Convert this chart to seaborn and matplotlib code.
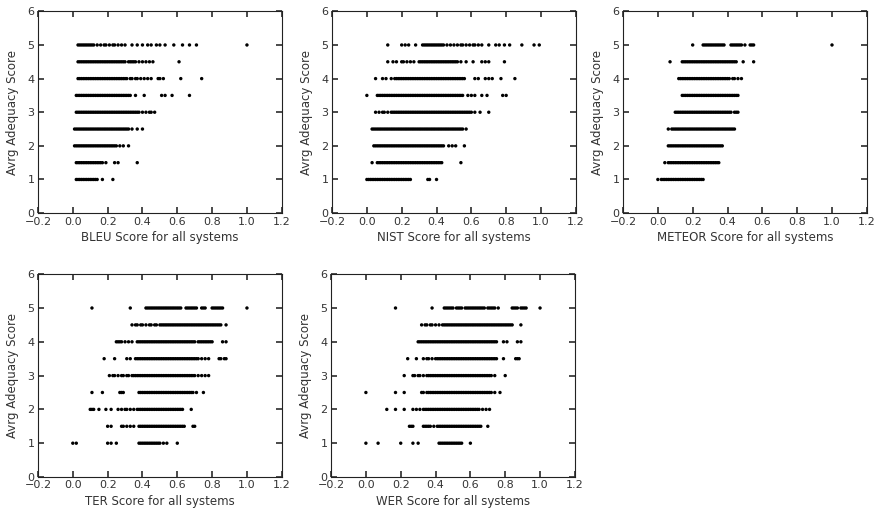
import matplotlib
matplotlib.use("Agg")
import pandas as pd
import matplotlib.pyplot as plt
import seaborn as sns

# adequacy levels (y) and the metric scores (x), one list per level
levels = [1.0, 1.5, 2.0, 2.5, 3.0, 3.5, 4.0, 4.5, 5.0]

bleu = [
    [0.02, 0.03, 0.04, 0.05, 0.06, 0.07, 0.08, 0.09, 0.10, 0.11, 0.12, 0.13, 0.14, 0.17, 0.23],
    [0.02, 0.03, 0.04, 0.05, 0.06, 0.07, 0.08, 0.09, 0.10, 0.11, 0.12, 0.13, 0.14, 0.15, 0.16, 0.17,
     0.19, 0.24, 0.26, 0.37],
    [0.01, 0.02, 0.03, 0.04, 0.05, 0.06, 0.07, 0.08, 0.09, 0.10, 0.11, 0.12, 0.13, 0.14, 0.15, 0.16,
     0.17, 0.18, 0.19, 0.20, 0.21, 0.22, 0.23, 0.24, 0.25, 0.27, 0.29, 0.32],
    [0.01, 0.02, 0.03, 0.04, 0.05, 0.06, 0.07, 0.08, 0.09, 0.10, 0.11, 0.12, 0.13, 0.14, 0.15, 0.16,
     0.17, 0.18, 0.19, 0.20, 0.21, 0.22, 0.23, 0.24, 0.25, 0.26, 0.27, 0.28, 0.29, 0.30, 0.31, 0.32,
     0.34, 0.37, 0.40],
    [0.02, 0.03, 0.04, 0.05, 0.06, 0.07, 0.08, 0.09, 0.10, 0.11, 0.12, 0.13, 0.14, 0.15, 0.16, 0.17,
     0.18, 0.19, 0.20, 0.21, 0.22, 0.23, 0.24, 0.25, 0.26, 0.27, 0.28, 0.29, 0.30, 0.31, 0.32, 0.33,
     0.34, 0.35, 0.36, 0.37, 0.38, 0.40, 0.42, 0.44, 0.45, 0.47],
    [0.02, 0.03, 0.04, 0.05, 0.06, 0.07, 0.08, 0.09, 0.10, 0.11, 0.12, 0.13, 0.14, 0.15, 0.16, 0.17,
     0.18, 0.19, 0.20, 0.21, 0.22, 0.23, 0.24, 0.25, 0.26, 0.27, 0.28, 0.29, 0.30, 0.31, 0.32, 0.33,
     0.36, 0.41, 0.51, 0.53, 0.57, 0.67],
    [0.03, 0.04, 0.05, 0.06, 0.07, 0.08, 0.09, 0.10, 0.11, 0.12, 0.13, 0.14, 0.15, 0.16, 0.17, 0.18,
     0.19, 0.20, 0.21, 0.22, 0.23, 0.24, 0.25, 0.26, 0.27, 0.28, 0.29, 0.30, 0.31, 0.33, 0.34, 0.36,
     0.37, 0.39, 0.41, 0.43, 0.45, 0.49, 0.50, 0.52, 0.62, 0.74],
    [0.03, 0.04, 0.05, 0.06, 0.07, 0.08, 0.09, 0.10, 0.11, 0.12, 0.13, 0.14, 0.15, 0.16, 0.17, 0.18,
     0.19, 0.20, 0.21, 0.22, 0.23, 0.24, 0.25, 0.26, 0.27, 0.28, 0.29, 0.30, 0.32, 0.33, 0.34, 0.35,
     0.36, 0.38, 0.40, 0.42, 0.44, 0.46, 0.61],
    [0.03, 0.04, 0.05, 0.06, 0.07, 0.08, 0.09, 0.10, 0.11, 0.12, 0.14, 0.16, 0.18, 0.19, 0.21, 0.23,
     0.24, 0.26, 0.28, 0.30, 0.34, 0.37, 0.40, 0.43, 0.45, 0.48, 0.50, 0.53, 0.58, 0.63, 0.67, 0.71,
     1.00],
]

nist = [
    [0.00, 0.01, 0.02, 0.03, 0.04, 0.05, 0.06, 0.07, 0.08, 0.09, 0.10, 0.11, 0.12, 0.13, 0.14, 0.15,
     0.16, 0.17, 0.18, 0.19, 0.20, 0.21, 0.22, 0.23, 0.24, 0.25, 0.35, 0.36, 0.40],
    [0.03, 0.06, 0.07, 0.08, 0.09, 0.10, 0.11, 0.12, 0.13, 0.14, 0.15, 0.16, 0.17, 0.18, 0.19, 0.20,
     0.21, 0.22, 0.23, 0.24, 0.25, 0.26, 0.27, 0.28, 0.29, 0.30, 0.31, 0.32, 0.33, 0.34, 0.35, 0.36,
     0.37, 0.38, 0.39, 0.40, 0.41, 0.42, 0.43, 0.54],
    [0.04, 0.05, 0.06, 0.07, 0.08, 0.09, 0.10, 0.11, 0.12, 0.13, 0.14, 0.15, 0.16, 0.17, 0.18, 0.19,
     0.20, 0.21, 0.22, 0.23, 0.24, 0.25, 0.26, 0.27, 0.28, 0.29, 0.30, 0.31, 0.32, 0.33, 0.34, 0.35,
     0.36, 0.37, 0.38, 0.39, 0.40, 0.41, 0.42, 0.43, 0.44, 0.47, 0.49, 0.51, 0.56],
    [0.03, 0.04, 0.05, 0.06, 0.07, 0.08, 0.09, 0.10, 0.11, 0.12, 0.13, 0.14, 0.15, 0.16, 0.17, 0.18,
     0.19, 0.20, 0.21, 0.22, 0.23, 0.24, 0.25, 0.26, 0.27, 0.28, 0.29, 0.30, 0.31, 0.32, 0.33, 0.34,
     0.35, 0.36, 0.37, 0.38, 0.39, 0.40, 0.41, 0.42, 0.43, 0.44, 0.45, 0.46, 0.47, 0.48, 0.49, 0.50,
     0.51, 0.52, 0.53, 0.54, 0.55, 0.57],
    [0.05, 0.07, 0.09, 0.10, 0.12, 0.14, 0.15, 0.16, 0.17, 0.18, 0.19, 0.20, 0.21, 0.22, 0.23, 0.24,
     0.25, 0.26, 0.27, 0.28, 0.29, 0.30, 0.31, 0.32, 0.33, 0.34, 0.35, 0.36, 0.37, 0.38, 0.39, 0.40,
     0.41, 0.42, 0.43, 0.44, 0.45, 0.46, 0.47, 0.48, 0.49, 0.50, 0.51, 0.52, 0.53, 0.54, 0.55, 0.56,
     0.57, 0.58, 0.59, 0.60, 0.62, 0.65, 0.70],
    [0.00, 0.06, 0.07, 0.08, 0.09, 0.10, 0.11, 0.12, 0.13, 0.14, 0.15, 0.16, 0.17, 0.18, 0.19, 0.20,
     0.21, 0.22, 0.23, 0.24, 0.25, 0.26, 0.27, 0.28, 0.29, 0.30, 0.31, 0.32, 0.33, 0.34, 0.35, 0.36,
     0.37, 0.38, 0.39, 0.40, 0.41, 0.42, 0.43, 0.44, 0.45, 0.46, 0.47, 0.48, 0.49, 0.50, 0.51, 0.52,
     0.53, 0.54, 0.55, 0.58, 0.60, 0.62, 0.66, 0.69, 0.78, 0.80],
    [0.05, 0.09, 0.11, 0.14, 0.16, 0.17, 0.18, 0.19, 0.20, 0.21, 0.22, 0.23, 0.24, 0.25, 0.26, 0.27,
     0.28, 0.29, 0.30, 0.31, 0.32, 0.33, 0.34, 0.35, 0.36, 0.37, 0.38, 0.39, 0.40, 0.41, 0.42, 0.43,
     0.44, 0.45, 0.46, 0.47, 0.48, 0.49, 0.50, 0.51, 0.52, 0.53, 0.54, 0.55, 0.56, 0.62, 0.64, 0.68,
     0.70, 0.72, 0.77, 0.85],
    [0.12, 0.15, 0.17, 0.20, 0.21, 0.23, 0.25, 0.27, 0.30, 0.31, 0.32, 0.33, 0.34, 0.35, 0.36, 0.37,
     0.38, 0.39, 0.40, 0.41, 0.42, 0.43, 0.44, 0.45, 0.46, 0.47, 0.48, 0.49, 0.50, 0.51, 0.52, 0.54,
     0.57, 0.61, 0.66, 0.68, 0.70, 0.79],
    [0.12, 0.20, 0.22, 0.24, 0.28, 0.32, 0.33, 0.34, 0.35, 0.36, 0.37, 0.38, 0.39, 0.40, 0.41, 0.42,
     0.43, 0.44, 0.46, 0.48, 0.50, 0.52, 0.54, 0.55, 0.57, 0.59, 0.61, 0.62, 0.64, 0.66, 0.70, 0.74,
     0.76, 0.79, 0.82, 0.89, 0.96, 0.99],
]

meteor = [
    [0.00, 0.02, 0.03, 0.04, 0.05, 0.06, 0.07, 0.08, 0.09, 0.10, 0.11, 0.12, 0.13, 0.14, 0.15, 0.16,
     0.17, 0.18, 0.19, 0.20, 0.21, 0.22, 0.23, 0.24, 0.25, 0.26],
    [0.04, 0.06, 0.07, 0.08, 0.09, 0.10, 0.11, 0.12, 0.13, 0.14, 0.15, 0.16, 0.17, 0.18, 0.19, 0.20,
     0.21, 0.22, 0.23, 0.24, 0.25, 0.26, 0.27, 0.28, 0.29, 0.30, 0.31, 0.32, 0.33, 0.34, 0.35],
    [0.06, 0.07, 0.08, 0.09, 0.10, 0.11, 0.12, 0.13, 0.14, 0.15, 0.16, 0.17, 0.18, 0.19, 0.20, 0.21,
     0.22, 0.23, 0.24, 0.25, 0.26, 0.27, 0.28, 0.29, 0.30, 0.31, 0.32, 0.33, 0.34, 0.35, 0.36, 0.37],
    [0.06, 0.08, 0.09, 0.10, 0.11, 0.12, 0.13, 0.14, 0.15, 0.16, 0.17, 0.18, 0.19, 0.20, 0.21, 0.22,
     0.23, 0.24, 0.25, 0.26, 0.27, 0.28, 0.29, 0.30, 0.31, 0.32, 0.33, 0.34, 0.35, 0.36, 0.37, 0.38,
     0.39, 0.40, 0.41, 0.42, 0.43, 0.44],
    [0.10, 0.11, 0.12, 0.13, 0.14, 0.15, 0.16, 0.17, 0.18, 0.19, 0.20, 0.21, 0.22, 0.23, 0.24, 0.25,
     0.26, 0.27, 0.28, 0.29, 0.30, 0.31, 0.32, 0.33, 0.34, 0.35, 0.36, 0.37, 0.38, 0.39, 0.40, 0.41,
     0.42, 0.44, 0.45, 0.46],
    [0.14, 0.15, 0.16, 0.17, 0.18, 0.19, 0.20, 0.21, 0.22, 0.23, 0.24, 0.25, 0.26, 0.27, 0.28, 0.29,
     0.30, 0.31, 0.32, 0.33, 0.34, 0.35, 0.36, 0.37, 0.38, 0.39, 0.40, 0.41, 0.42, 0.43, 0.44, 0.45,
     0.46],
    [0.12, 0.13, 0.14, 0.15, 0.16, 0.17, 0.18, 0.19, 0.20, 0.21, 0.22, 0.23, 0.24, 0.25, 0.26, 0.27,
     0.28, 0.29, 0.30, 0.31, 0.32, 0.33, 0.34, 0.35, 0.36, 0.37, 0.38, 0.39, 0.40, 0.41, 0.43, 0.44,
     0.46, 0.48],
    [0.07, 0.14, 0.15, 0.16, 0.17, 0.18, 0.19, 0.20, 0.21, 0.22, 0.23, 0.24, 0.25, 0.26, 0.27, 0.28,
     0.29, 0.30, 0.31, 0.32, 0.33, 0.34, 0.35, 0.36, 0.37, 0.38, 0.39, 0.40, 0.41, 0.42, 0.43, 0.44,
     0.45, 0.49, 0.55],
    [0.20, 0.26, 0.27, 0.28, 0.29, 0.30, 0.31, 0.32, 0.33, 0.34, 0.35, 0.36, 0.37, 0.38, 0.42, 0.43,
     0.44, 0.45, 0.46, 0.47, 0.48, 0.50, 0.53, 0.54, 0.55, 1.00],
]

ter = [
    [0.00, 0.02, 0.20, 0.22, 0.25, 0.38, 0.39, 0.40, 0.41, 0.42, 0.43, 0.44, 0.45, 0.46, 0.47, 0.48,
     0.49, 0.50, 0.52, 0.54, 0.60],
    [0.20, 0.22, 0.28, 0.29, 0.31, 0.33, 0.35, 0.38, 0.39, 0.40, 0.41, 0.42, 0.43, 0.44, 0.45, 0.46,
     0.47, 0.48, 0.49, 0.50, 0.51, 0.52, 0.53, 0.54, 0.55, 0.56, 0.57, 0.58, 0.59, 0.60, 0.61, 0.62,
     0.63, 0.64, 0.69, 0.70],
    [0.10, 0.11, 0.12, 0.15, 0.19, 0.22, 0.26, 0.28, 0.30, 0.31, 0.33, 0.35, 0.37, 0.38, 0.39, 0.40,
     0.41, 0.42, 0.43, 0.44, 0.45, 0.46, 0.47, 0.48, 0.49, 0.50, 0.51, 0.52, 0.53, 0.54, 0.55, 0.56,
     0.57, 0.58, 0.59, 0.60, 0.61, 0.62, 0.63, 0.68],
    [0.11, 0.17, 0.27, 0.28, 0.29, 0.38, 0.39, 0.40, 0.41, 0.42, 0.43, 0.44, 0.45, 0.46, 0.47, 0.48,
     0.49, 0.50, 0.51, 0.52, 0.53, 0.54, 0.55, 0.56, 0.57, 0.58, 0.59, 0.60, 0.61, 0.62, 0.63, 0.64,
     0.65, 0.66, 0.67, 0.68, 0.69, 0.71, 0.75],
    [0.21, 0.23, 0.24, 0.26, 0.28, 0.29, 0.31, 0.32, 0.34, 0.35, 0.36, 0.37, 0.38, 0.39, 0.40, 0.41,
     0.42, 0.43, 0.44, 0.45, 0.46, 0.47, 0.48, 0.49, 0.50, 0.51, 0.52, 0.53, 0.54, 0.55, 0.56, 0.57,
     0.58, 0.59, 0.60, 0.61, 0.62, 0.63, 0.64, 0.65, 0.66, 0.67, 0.68, 0.69, 0.70, 0.72, 0.74, 0.76,
     0.78],
    [0.18, 0.24, 0.31, 0.33, 0.36, 0.37, 0.38, 0.39, 0.40, 0.41, 0.42, 0.43, 0.44, 0.45, 0.46, 0.47,
     0.48, 0.49, 0.50, 0.51, 0.52, 0.53, 0.54, 0.55, 0.56, 0.57, 0.58, 0.59, 0.60, 0.61, 0.62, 0.63,
     0.64, 0.65, 0.66, 0.67, 0.68, 0.69, 0.70, 0.71, 0.72, 0.74, 0.76, 0.78, 0.84, 0.85, 0.87, 0.88],
    [0.25, 0.26, 0.27, 0.28, 0.30, 0.32, 0.34, 0.37, 0.38, 0.39, 0.40, 0.41, 0.42, 0.43, 0.44, 0.45,
     0.46, 0.47, 0.48, 0.49, 0.50, 0.51, 0.52, 0.53, 0.54, 0.55, 0.56, 0.57, 0.58, 0.59, 0.60, 0.61,
     0.62, 0.63, 0.64, 0.65, 0.66, 0.67, 0.68, 0.69, 0.70, 0.72, 0.73, 0.74, 0.75, 0.76, 0.77, 0.78,
     0.79, 0.80, 0.86, 0.88],
    [0.34, 0.36, 0.37, 0.39, 0.40, 0.42, 0.44, 0.45, 0.47, 0.48, 0.50, 0.51, 0.52, 0.53, 0.54, 0.55,
     0.56, 0.57, 0.58, 0.59, 0.60, 0.61, 0.62, 0.63, 0.64, 0.65, 0.66, 0.67, 0.68, 0.69, 0.70, 0.71,
     0.72, 0.73, 0.74, 0.75, 0.76, 0.77, 0.78, 0.79, 0.80, 0.81, 0.82, 0.83, 0.84, 0.85, 0.88],
    [0.11, 0.33, 0.42, 0.43, 0.44, 0.45, 0.46, 0.47, 0.48, 0.49, 0.50, 0.51, 0.52, 0.53, 0.54, 0.55,
     0.56, 0.57, 0.58, 0.59, 0.60, 0.61, 0.62, 0.65, 0.66, 0.67, 0.68, 0.69, 0.70, 0.71, 0.74, 0.75,
     0.76, 0.80, 0.81, 0.82, 0.83, 0.84, 0.85, 0.86, 1.00],
]

wer = [
    [0.00, 0.07, 0.20, 0.27, 0.30, 0.42, 0.43, 0.44, 0.45, 0.46, 0.47, 0.48, 0.49, 0.50, 0.51, 0.52,
     0.53, 0.54, 0.55, 0.60],
    [0.25, 0.26, 0.27, 0.33, 0.34, 0.35, 0.36, 0.37, 0.39, 0.41, 0.42, 0.43, 0.44, 0.45, 0.46, 0.47,
     0.48, 0.49, 0.50, 0.51, 0.52, 0.53, 0.54, 0.55, 0.56, 0.57, 0.58, 0.59, 0.60, 0.61, 0.62, 0.63,
     0.64, 0.65, 0.66, 0.70],
    [0.12, 0.17, 0.22, 0.27, 0.29, 0.31, 0.33, 0.34, 0.35, 0.36, 0.37, 0.38, 0.39, 0.40, 0.41, 0.42,
     0.43, 0.44, 0.45, 0.46, 0.47, 0.48, 0.49, 0.50, 0.51, 0.52, 0.53, 0.54, 0.55, 0.56, 0.57, 0.58,
     0.59, 0.60, 0.61, 0.62, 0.63, 0.64, 0.65, 0.67, 0.69, 0.71],
    [0.00, 0.17, 0.22, 0.32, 0.33, 0.35, 0.36, 0.37, 0.38, 0.39, 0.40, 0.41, 0.42, 0.43, 0.44, 0.45,
     0.46, 0.47, 0.48, 0.49, 0.50, 0.51, 0.52, 0.53, 0.54, 0.55, 0.56, 0.57, 0.58, 0.59, 0.60, 0.61,
     0.62, 0.63, 0.64, 0.65, 0.66, 0.67, 0.68, 0.69, 0.70, 0.71, 0.72, 0.74, 0.77],
    [0.22, 0.27, 0.28, 0.30, 0.31, 0.33, 0.35, 0.36, 0.37, 0.38, 0.39, 0.40, 0.41, 0.42, 0.43, 0.44,
     0.45, 0.46, 0.47, 0.48, 0.49, 0.50, 0.51, 0.52, 0.53, 0.54, 0.55, 0.56, 0.57, 0.58, 0.59, 0.60,
     0.61, 0.62, 0.63, 0.64, 0.65, 0.66, 0.67, 0.68, 0.69, 0.70, 0.71, 0.72, 0.74, 0.80],
    [0.24, 0.29, 0.33, 0.35, 0.36, 0.38, 0.40, 0.41, 0.42, 0.43, 0.44, 0.45, 0.46, 0.47, 0.48, 0.49,
     0.50, 0.51, 0.52, 0.53, 0.54, 0.55, 0.56, 0.57, 0.58, 0.59, 0.60, 0.61, 0.62, 0.63, 0.64, 0.65,
     0.66, 0.67, 0.68, 0.69, 0.70, 0.71, 0.72, 0.73, 0.74, 0.75, 0.79, 0.86, 0.87, 0.88],
    [0.30, 0.31, 0.32, 0.33, 0.34, 0.35, 0.36, 0.37, 0.38, 0.39, 0.40, 0.41, 0.42, 0.43, 0.44, 0.45,
     0.46, 0.47, 0.48, 0.49, 0.50, 0.51, 0.52, 0.53, 0.54, 0.55, 0.56, 0.57, 0.58, 0.59, 0.60, 0.61,
     0.62, 0.63, 0.64, 0.65, 0.66, 0.67, 0.68, 0.69, 0.70, 0.71, 0.72, 0.73, 0.74, 0.75, 0.79, 0.81,
     0.87, 0.89],
    [0.32, 0.34, 0.35, 0.37, 0.38, 0.40, 0.42, 0.44, 0.45, 0.46, 0.47, 0.48, 0.49, 0.50, 0.51, 0.52,
     0.53, 0.54, 0.55, 0.56, 0.57, 0.58, 0.59, 0.60, 0.61, 0.62, 0.63, 0.64, 0.65, 0.66, 0.67, 0.68,
     0.69, 0.70, 0.71, 0.72, 0.73, 0.74, 0.75, 0.76, 0.77, 0.78, 0.79, 0.80, 0.81, 0.82, 0.83, 0.84,
     0.89],
    [0.17, 0.38, 0.45, 0.46, 0.47, 0.48, 0.49, 0.50, 0.52, 0.53, 0.54, 0.55, 0.57, 0.58, 0.59, 0.60,
     0.61, 0.62, 0.63, 0.64, 0.65, 0.66, 0.67, 0.68, 0.70, 0.71, 0.72, 0.73, 0.74, 0.76, 0.84, 0.85,
     0.86, 0.87, 0.89, 0.90, 0.91, 0.92, 1.00],
]

metrics = ["BLEU", "NIST", "METEOR", "TER", "WER"]
scores = [bleu, nist, meteor, ter, wer]

rows = []
for name, per_level in zip(metrics, scores):
    for lvl, xs in zip(levels, per_level):
        for x in xs:
            rows.append({"metric": name, "score": x, "adequacy": lvl})
df = pd.DataFrame(rows)

sns.set_theme(style="ticks", rc={
    "xtick.direction": "in", "ytick.direction": "in",
    "xtick.top": True, "ytick.right": True,
    "xtick.major.size": 4, "ytick.major.size": 4,
    "axes.edgecolor": "#222222", "axes.linewidth": 0.8,
})
plt.rcParams["font.family"] = ["DejaVu Sans"]

fig = plt.figure(figsize=(8.77, 5.16), dpi=100)

# axes boxes in figure fractions (left, bottom, width, height)
boxes = [
    (0.0433, 0.587, 0.278, 0.391),
    (0.3786, 0.587, 0.278, 0.391),
    (0.7104, 0.587, 0.278, 0.391),
    (0.0433, 0.0756, 0.278, 0.393),
    (0.3775, 0.0756, 0.278, 0.393),
]

for name, box in zip(metrics, boxes):
    ax = fig.add_axes(box)
    sub = df[df["metric"] == name]
    sns.scatterplot(data=sub, x="score", y="adequacy", ax=ax,
                    color="black", s=6, edgecolor="none", linewidth=0)
    ax.set_xlim(-0.2, 1.2)
    ax.set_ylim(0, 6)
    ax.set_xticks([-0.2, 0.0, 0.2, 0.4, 0.6, 0.8, 1.0, 1.2])
    ax.set_yticks([0, 1, 2, 3, 4, 5, 6])
    ax.tick_params(axis="x", labelsize=8, colors="#333333", pad=2.5)
    ax.tick_params(axis="y", labelsize=8, colors="#333333", pad=2.5)
    ax.set_xlabel(f"{name} Score for all systems", fontsize=8.5, color="#333333", labelpad=3)
    ax.set_ylabel("Avrg Adequacy Score", fontsize=8.5, color="#333333", labelpad=6)
    for sp in ax.spines.values():
        sp.set_visible(True)

plt.savefig("out.png", dpi=100)
